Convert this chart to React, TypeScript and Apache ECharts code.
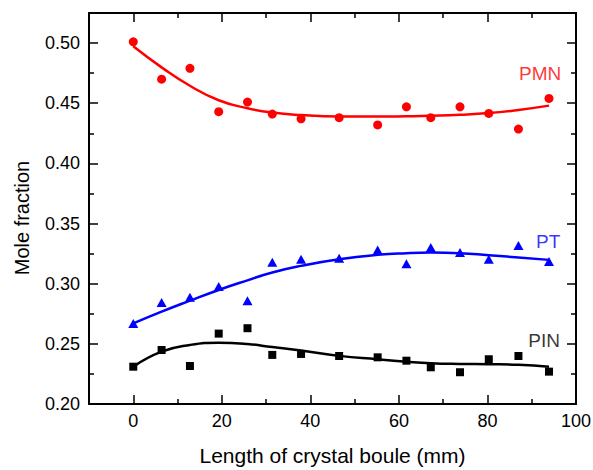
import { useEffect, useRef } from 'react';
import * as echarts from 'echarts';

// Sample positions along the boule (mm)
const positions = [0, 6.4, 12.8, 19.3, 25.8, 31.4, 37.9, 46.5, 55.2, 61.7, 67.2, 73.8, 80.3, 87.0, 93.9];
// Measured mole fractions
const pmnValues = [0.501, 0.470, 0.479, 0.443, 0.451, 0.441, 0.437, 0.438, 0.432, 0.447, 0.438, 0.447, 0.4415, 0.4285, 0.454];
const ptValues = [0.267, 0.2843, 0.2888, 0.2976, 0.2859, 0.3179, 0.3204, 0.3212, 0.3281, 0.3165, 0.33, 0.3259, 0.3204, 0.3317, 0.3184];
const pinValues = [0.231, 0.2449, 0.2316, 0.2585, 0.263, 0.2408, 0.2416, 0.2399, 0.2388, 0.236, 0.2305, 0.2264, 0.2372, 0.2399, 0.2269];

// Fitted curves
const fitPositions = [0, 6.4, 12.8, 19.3, 25.8, 31.4, 37.9, 46.5, 55.2, 61.7, 67.2, 73.8, 80.3, 87.0, 93.9];
const pmnFit = [0.4973, 0.4798, 0.4645, 0.4525, 0.4458, 0.4422, 0.4402, 0.439, 0.4389, 0.4392, 0.4396, 0.4404, 0.4418, 0.4444, 0.448];
const ptFit = [0.267, 0.2768, 0.2859, 0.2948, 0.3028, 0.3093, 0.3148, 0.3203, 0.324, 0.3254, 0.3259, 0.3254, 0.3237, 0.3218, 0.3198];
const pinFit = [0.231, 0.2435, 0.2491, 0.251, 0.2499, 0.2473, 0.2444, 0.24, 0.2372, 0.2352, 0.2339, 0.2333, 0.2331, 0.2326, 0.231];

// Series annotations
const labelNames = ['PMN', 'PT', 'PIN'];
const labelX = [91.9, 93.7, 92.8];
const labelY = [0.4751, 0.335, 0.2527];
const labelColors = ['#ff0000', '#0000ff', '#000000'];

// Axis ticks
const xMajorTicks = [0, 20, 40, 60, 80, 100];
const xMinorTicks = [10, 30, 50, 70, 90];
const yMajorTicks = [0.2, 0.25, 0.3, 0.35, 0.4, 0.45, 0.5];
const yMinorTicks = [0.225, 0.275, 0.325, 0.375, 0.425, 0.475];

const FONT = '"Liberation Sans", Arial, sans-serif';

function xAxis(position: string, ticks: number[], len: number, showLine: boolean, showLabel: boolean, name?: string) {
  return {
    type: 'value',
    position,
    min: -10,
    max: 100,
    name: name ?? '',
    nameLocation: 'middle',
    nameGap: 41,
    nameTextStyle: { fontFamily: FONT, fontSize: 21, color: '#000' },
    axisLine: { show: showLine, onZero: false, lineStyle: { color: '#000', width: 2 } },
    axisTick: { show: true, inside: true, length: len, customValues: ticks, lineStyle: { color: '#000', width: 1.5 } },
    axisLabel: {
      show: showLabel,
      customValues: ticks,
      margin: 8,
      fontFamily: FONT,
      fontSize: 18,
      color: '#000',
    },
    splitLine: { show: false },
  };
}

function yAxis(position: string, ticks: number[], len: number, showLine: boolean, showLabel: boolean, name?: string) {
  return {
    type: 'value',
    position,
    min: 0.2,
    max: 0.525,
    name: name ?? '',
    nameLocation: 'middle',
    nameGap: 57,
    nameTextStyle: { fontFamily: FONT, fontSize: 20, color: '#000', padding: [0, 19, 0, 0] },
    axisLine: { show: showLine, onZero: false, lineStyle: { color: '#000', width: 2 } },
    axisTick: { show: true, inside: true, length: len, customValues: ticks, lineStyle: { color: '#000', width: 1.5 } },
    axisLabel: {
      show: showLabel,
      customValues: ticks,
      margin: 9,
      fontFamily: FONT,
      fontSize: 18,
      color: '#000',
      formatter: (v: number) => v.toFixed(2),
    },
    splitLine: { show: false },
  };
}

function pairs(xs: number[], ys: number[]) {
  return xs.map((x, i) => [x, ys[i]]);
}

export default function App() {
  const ref = useRef<HTMLDivElement>(null);
  useEffect(() => {
    if (!ref.current) return;
    const chart = echarts.init(ref.current, undefined, { renderer: 'svg' });
    const fitLine = (ys: number[], color: string) => ({
      type: 'line',
      data: pairs(fitPositions, ys),
      smooth: true,
      showSymbol: false,
      silent: true,
      lineStyle: { color, width: 2.5 },
      z: 2,
    });
    chart.setOption({
      animation: false,
      backgroundColor: '#ffffff',
      grid: { left: 89, right: 17, top: 13, bottom: 66, outerBoundsMode: 'none' },
      xAxis: [
        xAxis('bottom', xMajorTicks, 9, true, true, 'Length of crystal boule (mm)'),
        xAxis('bottom', xMinorTicks, 5, false, false),
        xAxis('top', xMajorTicks, 9, true, false),
        xAxis('top', xMinorTicks, 5, false, false),
      ],
      yAxis: [
        yAxis('left', yMajorTicks, 9, true, true, 'Mole fraction'),
        yAxis('left', yMinorTicks, 5, false, false),
        yAxis('right', yMajorTicks, 9, true, false),
        yAxis('right', yMinorTicks, 5, false, false),
      ],
      series: [
        fitLine(pmnFit, '#ff0000'),
        fitLine(ptFit, '#0000ff'),
        fitLine(pinFit, '#000000'),
        {
          type: 'scatter', data: pairs(positions, pmnValues), symbol: 'circle', symbolSize: 9,
          itemStyle: { color: '#ff0000', opacity: 1 }, z: 3,
        },
        {
          type: 'scatter', data: pairs(positions, ptValues), symbol: 'triangle', symbolSize: [10, 9],
          itemStyle: { color: '#0000ff', opacity: 1 }, z: 3,
        },
        {
          type: 'scatter', data: pairs(positions, pinValues), symbol: 'rect', symbolSize: 8,
          itemStyle: { color: '#000000', opacity: 1 }, z: 3,
        },
        {
          type: 'scatter',
          symbolSize: 0,
          silent: true,
          data: labelNames.map((n, i) => ({
            name: n,
            value: [labelX[i], labelY[i]],
            label: { color: labelColors[i] },
          })),
          label: {
            show: true,
            position: 'inside',
            formatter: '{b}',
            fontFamily: FONT,
            fontSize: 19,
          },
          z: 4,
        },
      ],
    });
    return () => chart.dispose();
  }, []);
  return (
    <div
      ref={ref}
      style={{ position: 'fixed', left: 0, top: 0, width: 593, height: 470, background: '#fff' }}
    />
  );
}
